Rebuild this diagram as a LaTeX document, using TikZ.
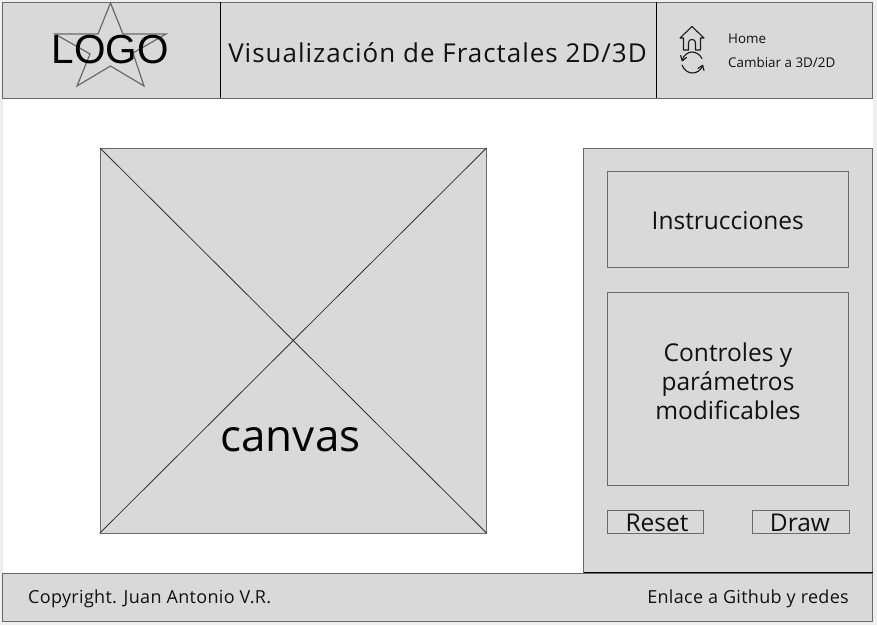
\documentclass[tikz,border=0pt]{standalone}
\usepackage{fontspec}
\setmainfont{Open Sans}
\newfontfamily\logofont{Liberation Sans}
\definecolor{boxfill}{HTML}{D9D9D9}
\definecolor{outer}{HTML}{EFEFEF}
\definecolor{edge}{HTML}{6A6A6A}
\definecolor{inktext}{HTML}{111111}
\tikzset{
  x=1pt,y=-1pt,
  panel/.style={draw=edge,fill=boxfill,line width=1pt,inner sep=0pt,outer sep=0pt},
  label/.style={inner sep=0pt,text=inktext,align=center},
  rule/.style={draw=black,line width=1pt},
  icon/.style={draw=black!90,line width=1.1pt,line join=round,line cap=round},
}
\begin{document}
\begin{tikzpicture}
\useasboundingbox (0,0) rectangle (877,625);
\fill[outer] (0,0) rectangle (877,625);
\fill[white] (3,98) rectangle (873,573);
% header
\node[panel,anchor=north west,minimum width=870pt,minimum height=96pt] (header) at (2.5,2) {};
\coordinate (d1t) at (220.5,2); \coordinate (d1b) at (220.5,98);
\coordinate (d2t) at (656,2); \coordinate (d2b) at (656,98);
\draw[rule] (d1t) -- (d1b);
\draw[rule] (d2t) -- (d2b);
\draw[draw=edge,line width=1.2pt,line join=miter] (110.5,3) -- (123,34) -- (166,34) -- (133,53) -- (144,86) -- (110.5,66) -- (77,86) -- (90,54) -- (55,34) -- (98,34) -- cycle;
\node[label,font=\logofont\fontsize{40.5}{40.5}\selectfont,text=black] (logo) at (110,50) {LOGO};
\node[label,font=\fontsize{26}{26}\addfontfeature{LetterSpace=3.8}\selectfont] (title) at (437.5,52.5) {Visualización de Fractales 2D/3D};
% icons
\draw[icon] (680,38) -- (692,26.5) -- (704,38) -- (700.5,38) -- (700.5,50) -- (695.5,50) -- (695.5,42.5) .. controls (695.5,38.5) and (688.5,38.5) .. (688.5,42.5) -- (688.5,50) -- (683.5,50) -- (683.5,38) -- cycle;
\draw[icon] (682,60.5) .. controls (683.5,55) and (688,52) .. (692,52) .. controls (696,52) and (700,54.5) .. (702,58.5);
\draw[icon] (680.5,55.5) -- (682.3,60.8) -- (686.5,57.5);
\draw[icon] (682,65) .. controls (684,70) and (688,73) .. (692.5,73) .. controls (697,73) and (701,70) .. (703,65.5);
\draw[icon] (698,68.5) -- (702.5,65.3) -- (704,70.5);
\node[label,anchor=west,font=\fontsize{13.4}{13.4}\selectfont] (home) at (728,38.5) {Home};
\node[label,anchor=west,font=\fontsize{13.4}{13.4}\selectfont] (cambiar) at (728,62.5) {Cambiar a 3D/2D};
% canvas
\node[panel,anchor=north west,minimum width=386.5pt,minimum height=385pt] (canvas) at (100,148) {};
\draw[draw=black!80,line width=.8pt] (canvas.north west) -- (canvas.south east);
\draw[draw=black!80,line width=.8pt] (canvas.north east) -- (canvas.south west);
\node[label,font=\fontsize{44}{44}\selectfont,text=black] (canvaslabel) at (290.5,439.5) {canvas};
% side panel
\node[panel,anchor=north west,minimum width=289pt,minimum height=424pt] (side) at (583.5,148) {};
\node[panel,anchor=north west,minimum width=241.5pt,minimum height=96pt] (instr) at (607,171) {};
\node[label,font=\fontsize{24.5}{24.5}\selectfont] at ([yshift=-2pt]instr.center) {Instrucciones};
\node[panel,anchor=north west,minimum width=241.5pt,minimum height=193pt] (ctrl) at (607,292) {};
\node[label,font=\fontsize{24.5}{29}\selectfont] at (728,381.5) {Controles y\\parámetros\\modificables};
\node[panel,anchor=north west,minimum width=96.5pt,minimum height=23pt] (reset) at (607,510) {};
\node[label,font=\fontsize{24.5}{24.5}\selectfont] at (657,522.5) {Reset};
\node[panel,anchor=north west,minimum width=96.5pt,minimum height=23pt] (draw) at (752.5,510) {};
\node[label,font=\fontsize{24.5}{24.5}\selectfont] at (800,522.5) {Draw};
% footer
\node[panel,anchor=north west,minimum width=870pt,minimum height=48pt] (footer) at (2.5,573) {};
\coordinate (fl) at (584,572.5); \coordinate (fr) at (873,572.5);
\draw[rule] (fl) -- (fr);
\node[label,anchor=west,font=\fontsize{18}{18}\addfontfeature{LetterSpace=1.8}\selectfont] (copy) at (28,599) {Copyright. Juan Antonio V.R.};
\node[label,anchor=east,font=\fontsize{18}{18}\addfontfeature{LetterSpace=1.7}\selectfont] (link) at (849,599) {Enlace a Github y redes};
\end{tikzpicture}
\end{document}
